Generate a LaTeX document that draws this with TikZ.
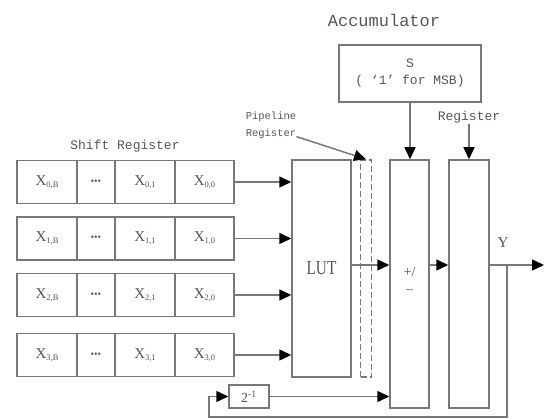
\documentclass[tikz,border=0pt]{standalone}
\usepackage{fontspec}
\setmainfont{Liberation Serif}
\newfontfamily\monof{Liberation Mono}
\usetikzlibrary{arrows.meta}
\definecolor{ln}{RGB}{120,120,120}
\definecolor{tx}{RGB}{85,85,85}
\begin{document}
\begin{tikzpicture}[x=1pt,y=-1pt,
  box/.style={draw=ln, line width=1.5pt, inner sep=0pt, text=tx},
  conn/.style={draw=ln, line width=1.5pt},
  arr/.style={conn, -{Triangle[length=12pt,width=11pt,color=black]}},
  lab/.style={text=tx, inner sep=1pt, font=\monof\fontsize{13}{15}\selectfont},
  xlab/.style={font=\fontsize{15}{15}\selectfont}]
\useasboundingbox (0,0) rectangle (544,419);

% shift register rows
\foreach \i/\yc in {0/182,1/238.5,2/295,3/355}{
  \node[box, xlab, minimum width=60pt, minimum height=43pt] (c\i0) at (47,\yc) {X\raisebox{-2pt}{\fontsize{8.5}{8.5}\selectfont\i,B}};
  \node[box, minimum width=38pt, minimum height=43pt] (c\i1) at (96,\yc) {\fontsize{10}{10}\selectfont\textbullet\textbullet\textbullet};
  \node[box, xlab, minimum width=60pt, minimum height=43pt] (c\i2) at (145,\yc) {X\raisebox{-2pt}{\fontsize{8.5}{8.5}\selectfont\i,1}};
  \node[box, xlab, minimum width=59pt, minimum height=43pt] (c\i3) at (204.5,\yc) {X\raisebox{-2pt}{\fontsize{8.5}{8.5}\selectfont\i,0}};
}
\node[lab] (shiftlab) at (125,146) {Shift Register};

% main blocks
\node[box, minimum width=59pt, minimum height=217pt, font=\fontsize{18}{18}\selectfont] (lut) at (321.5,268.5) {\scalebox{0.85}[1.1]{LUT}};
\node[box, draw=ln, dash pattern=on 6pt off 3pt, minimum width=11pt, minimum height=217pt] (pipe) at (366,268.5) {};
\node[box, minimum width=39pt, minimum height=248pt] (addsub) at (409.5,284) {};
\node[text=tx, inner sep=1pt, font=\fontsize{14}{14}\selectfont] (pm1) at (409.5,272) {+/};
\node[text=tx, inner sep=1pt, font=\fontsize{14}{14}\selectfont] (pm2) at (409.5,292) {–};
\node[box, minimum width=40pt, minimum height=248pt] (reg) at (469,284) {};
\node[box, minimum width=142pt, minimum height=57pt, align=center, font=\monof\fontsize{13}{17}\selectfont] (sbox) at (410,73.5) {S\\( ‘1’ for MSB)};
\node[box, minimum width=40pt, minimum height=23pt, font=\fontsize{14}{14}\selectfont] (two) at (249,396.5) {2\textsuperscript{-1}};

% labels
\node[lab, font=\monof\fontsize{17}{19}\selectfont] (acclab) at (384,20) {Accumulator};
\node[lab] (reglab) at (469,117) {Register};
\node[lab, align=center, font=\monof\fontsize{10.5}{17}\selectfont] (pipelab) at (271,125) {Pipeline\\Register};
\node[text=tx, inner sep=1pt, font=\fontsize{15}{15}\selectfont] (ylab) at (503,243) {Y};

% connectors
\foreach \i in {0,1,2,3}{
  \draw[arr] (c\i3.east) -- (c\i3.east -| lut.west);
}
\draw[arr] (sbox.south) -- (sbox.south |- addsub.north);
\draw[arr] (reglab.south) -- (reg.north);
\draw[arr] ([xshift=-1pt,yshift=3pt]pipelab.south east) -- (pipe.north);
\draw[arr] ([yshift=3.5pt]lut.east) -- ([yshift=19pt]addsub.west);
\draw[arr] ([yshift=19pt]addsub.east) -- ([yshift=19pt]reg.west);
\coordinate (yout) at (544,265);
\coordinate (br) at (507,265);
\coordinate (fb1) at (507,417);
\coordinate (fb2) at (209,417);
\draw[arr] ([yshift=19pt]reg.east) -- (yout);
\draw[arr] (br) -- (fb1) -- (fb2) |- (two.west);
\draw[arr] (two.east) -- (two.east -| addsub.west);
\end{tikzpicture}
\end{document}
